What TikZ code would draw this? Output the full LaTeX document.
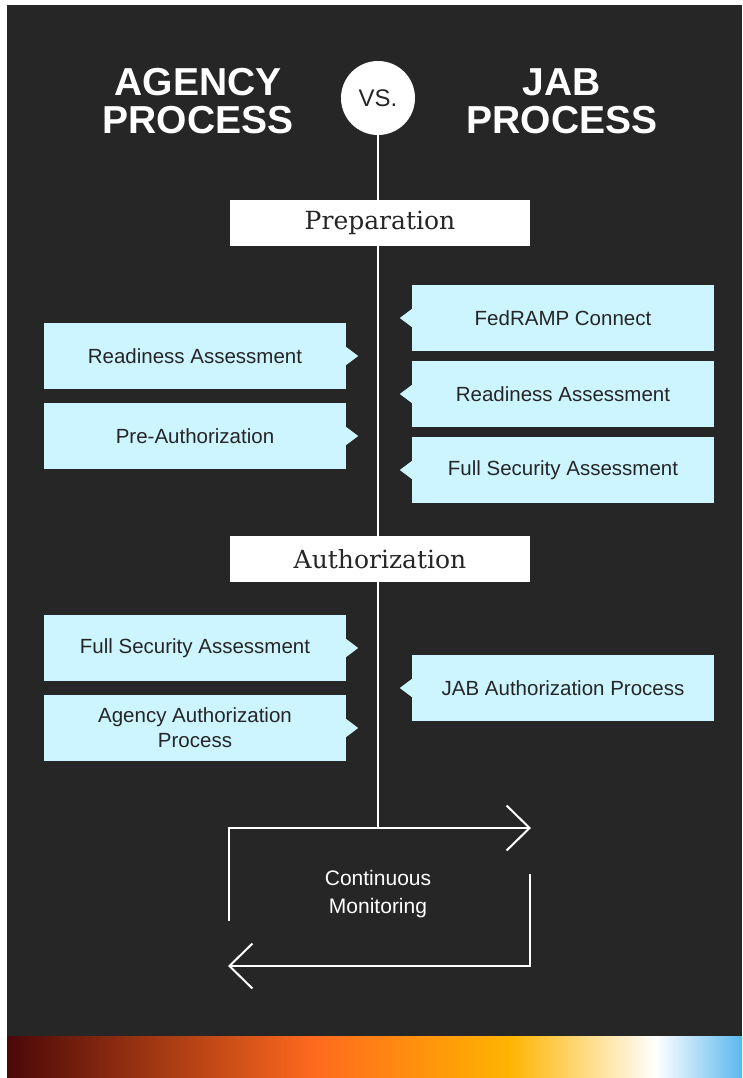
\documentclass[tikz,border=0pt]{standalone}
\usepackage{fontspec}
\setmainfont{Liberation Sans}
\newfontfamily\phasefont{DejaVu Serif}
\usetikzlibrary{arrows.meta}

\definecolor{bgdark}{HTML}{262626}
\definecolor{boxcyan}{HTML}{CCF5FF}
\definecolor{gradA}{HTML}{4A0808}
\definecolor{gradB}{HTML}{FF6A1E}
\definecolor{gradC}{HTML}{FFB400}
\definecolor{gradD}{HTML}{FFFFFF}
\definecolor{gradE}{HTML}{5AB8EE}

\tikzset{
  infobox/.style={fill=boxcyan, text=bgdark, minimum width=302pt, minimum height=66pt,
    inner sep=0pt, align=center, font=\fontsize{20.5}{25}\selectfont},
  phasebox/.style={fill=white, text=bgdark, minimum width=300pt, minimum height=46pt,
    inner sep=0pt, font=\phasefont\fontsize{25}{28}\selectfont},
  heading/.style={text=white, align=center, font=\bfseries\fontsize{39}{38}\selectfont},
  flow/.style={white, line width=2pt},
  chevron/.style={-{Straight Barb[length=23pt, width=45pt, line width=2pt]}},
}

% small pointer tabs on the boxes
\newcommand{\tabright}[1]{\fill[boxcyan] ([yshift=9pt]#1.east) -- ++(12,9) -- ++(-12,9) -- cycle;}
\newcommand{\tableft}[1]{\fill[boxcyan] ([yshift=9pt]#1.west) -- ++(-12,9) -- ++(12,9) -- cycle;}

\begin{document}
\begin{tikzpicture}[x=1pt, y=-1pt]
  \useasboundingbox (0,0) rectangle (742,1078);
  % background and colour band
  \fill[white] (0,0) rectangle (742,1078);
  \fill[bgdark] (7,5) rectangle (742,1036);
  \shade[left color=gradA, right color=gradB] (7,1036) rectangle (315,1078);
  \shade[left color=gradB, right color=gradC] (315,1036) rectangle (510,1078);
  \shade[left color=gradC, right color=gradD] (510,1036) rectangle (656,1078);
  \shade[left color=gradD, right color=gradE] (656,1036) rectangle (742,1078);

  % headings
  \node[heading] (agency) at (198,101) {AGENCY\\PROCESS};
  \node[heading] (jab) at (562,101) {JAB\\PROCESS};
  \node[circle, fill=white, minimum size=74pt, inner sep=0pt, text=bgdark,
    font=\fontsize{24}{26}\selectfont] (vs) at (378,98) {VS.};

  % timeline
  \coordinate (tm) at (378,828);
  \draw[flow] (vs.south) -- (tm);

  \node[phasebox] (prep) at (380,223) {Preparation};
  \node[phasebox] (auth) at (380,559) {Authorization};

  % preparation
  \node[infobox] (ra1) at (195,356) {Readiness Assessment};
  \node[infobox] (pre) at (195,436) {Pre-Authorization};
  \node[infobox] (fed) at (563,318) {FedRAMP Connect};
  \node[infobox] (ra2) at (563,394) {Readiness Assessment};
  \node[infobox] (fsa2) at (563,470) {Full Security Assessment};
  \tabright{ra1} \tabright{pre}
  \tableft{fed} \tableft{ra2} \tableft{fsa2}

  % authorization
  \node[infobox] (fsa1) at (195,648) {Full Security Assessment};
  \node[infobox] (aap) at (195,728) {Agency Authorization\\Process};
  \node[infobox] (jap) at (563,688) {JAB Authorization Process};
  \tabright{fsa1} \tabright{aap}
  \tableft{jap}

  % continuous monitoring loop
  \coordinate (tl) at (229,828);
  \coordinate (tr) at (531,828);
  \coordinate (ld) at (229,921);
  \coordinate (ru) at (530,874);
  \coordinate (br) at (530,966);
  \coordinate (bl) at (228,966);
  \draw[flow, chevron] (ld) -- (tl) -- (tr);
  \draw[flow, chevron] (ru) -- (br) -- (bl);
  \node[text=white, align=center, font=\fontsize{21}{28}\selectfont] (cm) at (378,894)
    {Continuous\\Monitoring};
\end{tikzpicture}
\end{document}
